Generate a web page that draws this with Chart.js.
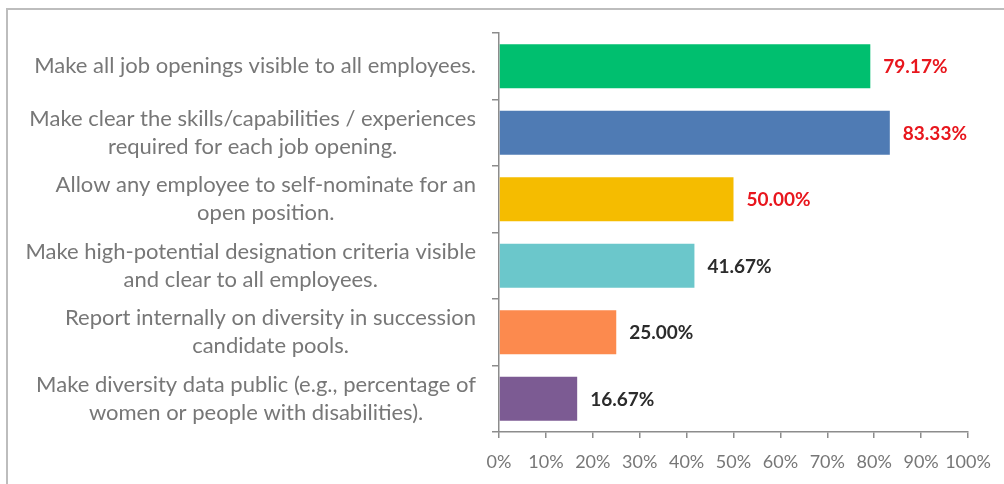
<!DOCTYPE html>
<html>
<head>
<meta charset="utf-8">
<script src="https://cdn.jsdelivr.net/npm/chart.js@4"></script>
<style>
    html, body { margin: 0; padding: 0; background: #fff; }
    #wrap { position: relative; width: 1004px; height: 484px; overflow: hidden; }
    #frame {
        position: absolute; left: 6px; top: 8px; width: 1100px; height: 600px;
        border-left: 2px solid #bdbdbd; border-top: 2px solid #bdbdbd;
    }
    canvas { position: absolute; left: 0; top: 0; }
</style>
</head>
<body>
<div id="wrap">
    <div id="frame"></div>
    <canvas id="myChart" width="1004" height="484"></canvas>
</div>
<script>
const practices = [
    ["Make all job openings visible to all employees."],
    ["Make clear the skills/capabilities / experiences", "required for each job opening."],
    ["Allow any employee to self-nominate for an", "open position."],
    ["Make high-potential designation criteria visible", "and clear to all employees."],
    ["Report internally on diversity in succession", "candidate pools."],
    ["Make diversity data public (e.g., percentage of", "women or people with disabilities)."]
];
const shares = [79.17, 83.33, 50.00, 41.67, 25.00, 16.67];
const barColors = ["#00bf6f", "#4f7bb4", "#f5bc00", "#6bc7cb", "#fc8a4e", "#7c5b93"];
const valueColors = ["#e8161d", "#e8161d", "#e8161d", "#2b2b2b", "#2b2b2b", "#2b2b2b"];
const xTicks = [0, 10, 20, 30, 40, 50, 60, 70, 80, 90, 100];

const axisGray = "#8c8c8c";
const textGray = "#777777";
const fontFamily = "Lato, 'Open Sans', sans-serif";

// category text: each block right-aligned, lines centred within the block
const categoryLabels = {
    id: "categoryLabels",
    afterDraw(chart) {
        const ctx = chart.ctx;
        const yScale = chart.scales.y;
        const right = yScale.right - 23;
        const lineHeight = 28;
        ctx.save();
        ctx.font = "22px " + fontFamily;
        ctx.fillStyle = textGray;
        ctx.textAlign = "center";
        ctx.textBaseline = "middle";
        practices.forEach((lines, i) => {
            const widest = Math.max(...lines.map(l => ctx.measureText(l).width));
            const cx = right - widest / 2;
            const cy = yScale.getPixelForValue(i);
            lines.forEach((line, j) => {
                const y = cy + (j - (lines.length - 1) / 2) * lineHeight;
                ctx.fillText(line, cx, y);
            });
        });
        ctx.restore();
    }
};

// percentage printed just past the end of each bar
const valueLabels = {
    id: "valueLabels",
    afterDatasetsDraw(chart) {
        const ctx = chart.ctx;
        const meta = chart.getDatasetMeta(0);
        ctx.save();
        ctx.font = "bold 19px " + fontFamily;
        ctx.textAlign = "left";
        ctx.textBaseline = "middle";
        meta.data.forEach((bar, i) => {
            ctx.fillStyle = valueColors[i];
            ctx.fillText(shares[i].toFixed(2) + "%", bar.x + 13, bar.y + 1);
        });
        ctx.restore();
    }
};

const ctx = document.getElementById("myChart").getContext("2d");
new Chart(ctx, {
    type: "bar",
    data: {
        labels: practices,
        datasets: [{
            data: shares,
            backgroundColor: barColors,
            borderWidth: 0,
            categoryPercentage: 0.66,
            barPercentage: 1
        }]
    },
    options: {
        indexAxis: "y",
        responsive: false,
        animation: false,
        layout: { padding: { left: 8, right: 36, top: 33, bottom: 0 } },
        plugins: {
            legend: { display: false },
            tooltip: { enabled: false }
        },
        scales: {
            x: {
                min: 0,
                max: 100,
                afterBuildTicks: (scale) => {
                    scale.ticks = xTicks.map(v => ({ value: v }));
                },
                afterFit: (scale) => { scale.height = 52; },
                ticks: {
                    padding: 13,
                    color: textGray,
                    autoSkip: false,
                    maxRotation: 0,
                    minRotation: 0,
                    font: { family: fontFamily, size: 18 },
                    callback: (v) => v + "%"
                },
                grid: {
                    drawOnChartArea: false,
                    tickLength: 6,
                    color: axisGray,
                    lineWidth: 1.5
                },
                border: { color: axisGray, width: 1.5 }
            },
            y: {
                afterFit: (scale) => { scale.width = 499 - 8; },
                ticks: { display: false },
                grid: {
                    drawOnChartArea: false,
                    tickLength: 7,
                    color: axisGray,
                    lineWidth: 1.5
                },
                border: { color: axisGray, width: 1.5 }
            }
        }
    },
    plugins: [categoryLabels, valueLabels]
});
</script>
</body>
</html>
